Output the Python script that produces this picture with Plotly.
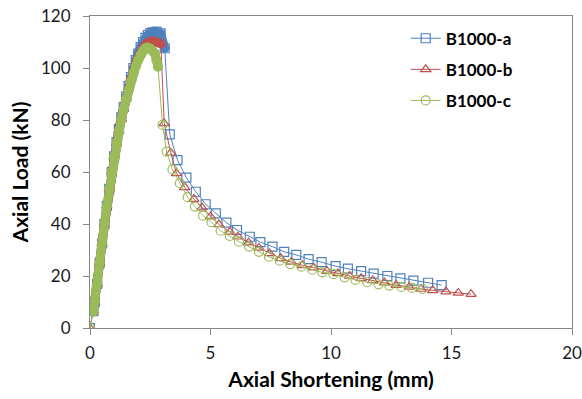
import plotly.graph_objects as go

# ---------------- data ----------------
SERIES_NAMES = ["B1000-a", "B1000-b", "B1000-c"]
COLORS = ["#4F81BD", "#C0504D", "#9BBB59"]
SYMBOLS = ["square-open", "triangle-up-open", "circle-open"]

# B1000-a : rising branch (through peak) and softening branch
A_RISE_X = [0, 0.14, 0.2, 0.3, 0.4, 0.5, 0.6, 0.7, 0.8, 0.9, 1.0, 1.1, 1.2, 1.3, 1.4, 1.5,
            1.6, 1.7, 1.8, 1.9, 2.0, 2.1, 2.2, 2.3, 2.4, 2.5, 2.6, 2.76, 2.93, 3.1]
A_RISE_Y = [0, 6.5, 10, 17, 25, 32.5, 40, 47, 53.5, 60, 66, 71.5, 76.5, 81, 85, 89,
            93, 96.5, 100, 103, 105.5, 108, 110, 111.6, 112.7, 113.4, 113.7, 114.0, 113.3, 107.6]
A_FALL_X = [3.31, 3.63, 4.0, 4.39, 4.8, 5.22, 5.66, 6.1, 6.63, 7.07, 7.57, 8.06, 8.56, 9.07,
            9.61, 10.19, 10.7, 11.25, 11.77, 12.34, 12.88, 13.42, 14.03, 14.59]
A_FALL_Y = [74.5, 64.6, 57.8, 52.4, 47.6, 44.1, 40.5, 37.7, 35.1, 33.0, 31.3, 29.3, 28.1, 26.5,
            25.3, 23.8, 22.8, 21.9, 20.9, 20.0, 19.1, 18.2, 17.4, 16.5]

# B1000-b
B_RISE_X = [0, 0.14, 0.2, 0.3, 0.4, 0.5, 0.6, 0.7, 0.8, 0.9, 1.0, 1.1, 1.2, 1.3, 1.4, 1.5,
            1.6, 1.7, 1.8, 1.9, 2.0, 2.1, 2.2, 2.3, 2.4, 2.5, 2.6, 2.7, 2.8, 2.94]
B_RISE_Y = [0, 6.5, 10, 17, 25, 32.5, 40, 47, 53.5, 60, 66, 71.2, 76, 80.5, 84.5, 88.5,
            92.5, 96, 99, 101.8, 104.2, 106.2, 107.8, 109, 109.8, 110.2, 110.3, 110.1, 109.8, 109.3]
B_FALL_X = [3.08, 3.35, 3.59, 3.93, 4.31, 4.65, 5.0, 5.35, 5.8, 6.14, 6.58, 7.01, 7.45, 7.91,
            8.35, 8.81, 9.28, 9.83, 10.28, 10.77, 11.25, 11.73, 12.22, 12.7, 13.25, 13.73,
            14.22, 14.77, 15.28, 15.81]
B_FALL_Y = [78.7, 67.4, 59.5, 54.1, 49.6, 46.3, 42.8, 39.8, 37.0, 35.1, 32.8, 30.8, 28.7, 26.8,
            25.4, 24.1, 23.2, 21.9, 21.0, 20.0, 19.1, 18.3, 17.4, 16.5, 15.8, 15.0,
            14.5, 14.0, 13.5, 13.0]

# B1000-c
C_RISE_X = [0, 0.14, 0.2, 0.3, 0.4, 0.5, 0.6, 0.7, 0.8, 0.9, 1.0, 1.1, 1.2, 1.3, 1.4, 1.5,
            1.6, 1.7, 1.8, 1.9, 2.0, 2.1, 2.2, 2.3, 2.4, 2.5, 2.6, 2.69, 2.76, 2.82]
C_RISE_Y = [0, 6.3, 10, 17, 25, 32.5, 40, 47, 53.5, 60, 65.8, 71, 75.8, 80.2, 84.2, 88,
            91.5, 95, 98, 100.7, 103, 105, 106.6, 107.6, 107.8, 107.4, 106.6, 105.6, 103.0, 100.5]
C_FALL_X = [3.01, 3.18, 3.42, 3.73, 4.05, 4.35, 4.69, 5.04, 5.42, 5.8, 6.18, 6.6, 7.01, 7.42,
            7.87, 8.31, 8.77, 9.22, 9.64, 10.1, 10.56, 11.01, 11.5, 11.97, 12.42, 12.91,
            13.36, 13.8]
C_FALL_Y = [78.1, 67.8, 61.0, 55.7, 50.3, 46.7, 43.2, 40.7, 37.4, 35.4, 33.2, 31.3, 29.3, 27.4,
            25.9, 24.6, 23.6, 22.4, 21.4, 20.7, 19.5, 18.5, 17.6, 16.8, 16.3, 15.8,
            15.4, 15.0]

X_TICKS = [0, 5, 10, 15, 20]
Y_TICKS = [0, 20, 40, 60, 80, 100, 120]
X_TITLE = "Axial Shortening (mm)"
Y_TITLE = "Axial Load (kN)"

RISE = [(A_RISE_X, A_RISE_Y), (B_RISE_X, B_RISE_Y), (C_RISE_X, C_RISE_Y)]
FALL = [(A_FALL_X, A_FALL_Y), (B_FALL_X, B_FALL_Y), (C_FALL_X, C_FALL_Y)]

FONT = "Lato, 'Open Sans', sans-serif"

fig = go.Figure()
for name, color, sym, (rx, ry), (fx, fy) in zip(SERIES_NAMES, COLORS, SYMBOLS, RISE, FALL):
    # densely-sampled rising branch appears as a solid band of overlapping markers
    fig.add_trace(go.Scatter(
        x=rx[1:], y=ry[1:], mode="lines+markers", showlegend=False, hoverinfo="skip",
        line=dict(color=color, width=9),
        marker=dict(color=color, size=9, symbol="circle"),
    ))
    fig.add_trace(go.Scatter(
        x=rx + fx, y=ry + fy, mode="lines+markers", name=name,
        legendgroup=name,
        line=dict(color=color, width=1),
        marker=dict(color=color, size=9, symbol=sym, line=dict(color=color, width=1.2)),
    ))

axis_common = dict(
    showline=True, linecolor="#868686", linewidth=1, mirror=True,
    showgrid=False, zeroline=False, automargin=False,
    ticks="outside", ticklen=6, tickcolor="#868686",
    tickfont=dict(family=FONT, size=17, color="#1a1a1a"),
)

fig.update_xaxes(range=[0, 20], tickvals=X_TICKS, ticklabelstandoff=4,
                 title=dict(text=X_TITLE, font=dict(family=FONT, size=21, color="#000", weight="bold"),
                            standoff=9),
                 **axis_common)
fig.update_yaxes(range=[0, 120], tickvals=Y_TICKS, ticklabelstandoff=9,
                 title=dict(text=Y_TITLE, font=dict(family=FONT, size=21, color="#000", weight="bold"),
                            standoff=6),
                 **axis_common)

fig.update_layout(
    width=582, height=399,
    margin=dict(l=90, r=10, t=16, b=71),
    paper_bgcolor="white", plot_bgcolor="white",
    showlegend=True,
    legend=dict(x=0.655, y=0.985, xanchor="left", yanchor="top",
                font=dict(family=FONT, size=17, color="#000", weight="bold"),
                bgcolor="rgba(0,0,0,0)", tracegroupgap=6, traceorder="grouped"),
)

fig.write_html("out.html", config={"displayModeBar": False},
               post_script="document.body.style.margin='0';")
